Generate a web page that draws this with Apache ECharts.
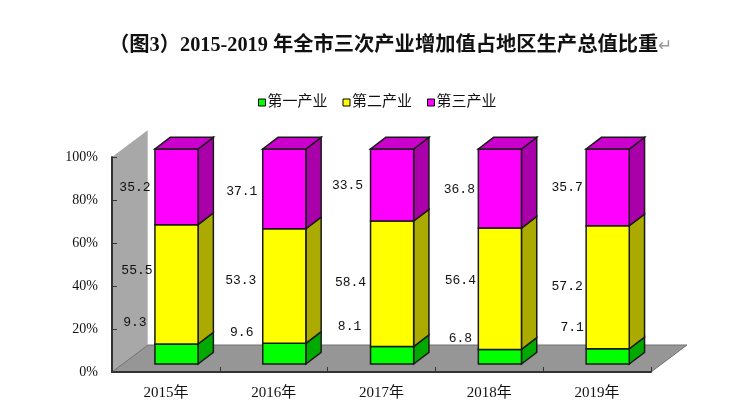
<!DOCTYPE html>
<html>
<head>
<meta charset="utf-8">
<title>三次产业比重</title>
<style>
	html, body { margin: 0; padding: 0; background: #fff; }
	#chart { width: 742px; height: 417px; }
</style>
<script src="https://cdn.jsdelivr.net/npm/echarts@6/dist/echarts.min.js"></script>
</head>
<body>
<div id="chart"></div>
<script>
	const years = ['2015年', '2016年', '2017年', '2018年', '2019年'];
	const primary = [9.3, 9.6, 8.1, 6.8, 7.1];
	const secondary = [55.5, 53.3, 58.4, 56.4, 57.2];
	const tertiary = [35.2, 37.1, 33.5, 36.8, 35.7];
	const seriesNames = ['第一产业', '第二产业', '第三产业'];
	const yTicks = [0, 20, 40, 60, 80, 100];

	// 标签是手工拖动过的, 这里记录相对色块左侧中点的偏移
	const primaryNudge = [[-20, -31], [-21, -21], [-21, -29], [-18, -18], [-14, -29]];
	const secondaryNudge = [[-18, -14], [-22, -6], [-20, -1], [-18, -8], [-19, -1]];
	const tertiaryNudge = [[-20, 1], [-21, 3], [-23, 1], [-19, 1], [-19, 0]];

	const serif = '"Liberation Serif", "Noto Sans CJK SC", serif';
	const mono = '"Liberation Mono", "Noto Sans CJK SC", monospace';
	const depth = { x: 36, y: -27 }; // 墙和地面的进深
	const front = { x: 10.6, y: -8 }; // 柱子正面相对坐标轴平面的位移
	const barDepth = { x: 15.3, y: -11.7 };
	const edge = '#1a1a1a';

	function poly(points, fill, stroke, width) {
		return {
			type: 'polygon',
			shape: { points: points },
			style: { fill: fill, stroke: stroke || null, lineWidth: width || 0 }
		};
	}

	// 左墙和地面
	function renderBackdrop(params, api) {
		const g = params.coordSys;
		const left = g.x, right = g.x + g.width, top = g.y, bottom = g.y + g.height;
		return {
			type: 'group',
			children: [
				poly([[left, top], [left + depth.x, top + depth.y], [left + depth.x, bottom + depth.y], [left, bottom]],
					{
						type: 'linear', x: 0, y: 0, x2: 1, y2: 0,
						colorStops: [{ offset: 0, color: '#a8a8a8' }, { offset: 0.96, color: '#a8a8a8' }, { offset: 1, color: '#d0d0d0' }]
					}),
				poly([[left, bottom], [left + depth.x, bottom + depth.y], [right + depth.x, bottom + depth.y], [right, bottom]],
					'#969696', '#707070', 1)
			]
		};
	}

	// 一段立体柱: 正面 + 侧面 + 顶面(只有最上面一段)
	function renderSegment(fill, side, topFill, nudges) {
		return function (params, api) {
			const i = api.value(0);
			const from = api.coord([i, api.value(1)]);
			const to = api.coord([i, api.value(2)]);
			const w = api.size([1, 0])[0] * 0.4;
			const x0 = from[0] - w / 2 + front.x;
			const x1 = x0 + w;
			const yb = from[1] + front.y;
			const yt = to[1] + front.y;
			const dx = barDepth.x, dy = barDepth.y;
			const children = [
				poly([[x1, yb], [x1 + dx, yb + dy], [x1 + dx, yt + dy], [x1, yt]], side, edge, 1.5),
				poly([[x0, yb], [x1, yb], [x1, yt], [x0, yt]], fill, edge, 1.5)
			];
			if (topFill) {
				children.push(poly([[x0, yt], [x1, yt], [x1 + dx, yt + dy], [x0 + dx, yt + dy]], topFill, edge, 1.5));
			}
			children.push({
				type: 'text',
				z2: 10,
				style: {
					x: x0 + nudges[i][0],
					y: (yb + yt) / 2 + nudges[i][1],
					text: String(api.value(3)),
					align: 'center',
					verticalAlign: 'middle',
					fill: '#111',
					font: '13px ' + mono
				}
			});
			return { type: 'group', children: children };
		};
	}

	function stackRows(values, below) {
		return values.map(function (v, i) {
			const base = below ? below[i][2] : 0;
			return [i, base, Math.round((base + v) * 10) / 10, v];
		});
	}

	const primaryRows = stackRows(primary);
	const secondaryRows = stackRows(secondary, primaryRows);
	const tertiaryRows = stackRows(tertiary, secondaryRows);

	const chart = echarts.init(document.getElementById('chart'));
	chart.setOption({
		animation: false,
		backgroundColor: '#fff',
		title: {
			text: '（图3）2015-2019 年全市三次产业增加值占地区生产总值比重{arrow|↵}',
			left: 104,
			top: 31,
			textStyle: {
				fontFamily: serif,
				fontSize: 20.3,
				fontWeight: 'bold',
				color: '#111',
				rich: {
					arrow: { fontSize: 17, color: '#999', fontWeight: 'normal' }
				}
			}
		},
		legend: {
			data: seriesNames,
			left: 253,
			top: 90,
			icon: 'rect',
			itemWidth: 7,
			itemHeight: 7,
			itemGap: 15,
			itemStyle: { borderColor: '#000', borderWidth: 1 },
			textStyle: { fontFamily: serif, fontSize: 15, color: '#111', padding: [0, 0, 0, -3] }
		},
		grid: { left: 112, right: 91, top: 157, height: 215 },
		xAxis: {
			type: 'category',
			data: years,
			z: 3,
			axisLine: { lineStyle: { color: '#333', width: 2 } },
			axisTick: { show: true, inside: true, length: 5, lineStyle: { color: '#333' } },
			axisLabel: { color: '#111', fontFamily: serif, fontSize: 15, margin: 14 }
		},
		yAxis: {
			type: 'value',
			min: yTicks[0],
			max: yTicks[yTicks.length - 1],
			interval: yTicks[1] - yTicks[0],
			z: 3,
			splitLine: { show: false },
			axisLine: { show: true, lineStyle: { color: '#333', width: 2 } },
			axisTick: { show: true, inside: true, length: 5, lineStyle: { color: '#333' } },
			axisLabel: { color: '#111', fontFamily: serif, fontSize: 14, margin: 14, formatter: '{value}%' }
		},
		series: [
			{ type: 'custom', name: 'backdrop', z: 1, silent: true, renderItem: renderBackdrop, data: [[0, 0]] },
			{
				type: 'custom', name: seriesNames[0], z: 4, itemStyle: { color: '#00ff00' },
				renderItem: renderSegment('#00ff00', '#00aa00', null, primaryNudge),
				encode: { x: 0, y: [1, 2] }, data: primaryRows
			},
			{
				type: 'custom', name: seriesNames[1], z: 4, itemStyle: { color: '#ffff00' },
				renderItem: renderSegment('#ffff00', '#aaaa00', null, secondaryNudge),
				encode: { x: 0, y: [1, 2] }, data: secondaryRows
			},
			{
				type: 'custom', name: seriesNames[2], z: 4, itemStyle: { color: '#ff00ff' },
				renderItem: renderSegment('#ff00ff', '#aa00aa', '#cc00cc', tertiaryNudge),
				encode: { x: 0, y: [1, 2] }, data: tertiaryRows
			}
		]
	});
</script>
</body>
</html>
